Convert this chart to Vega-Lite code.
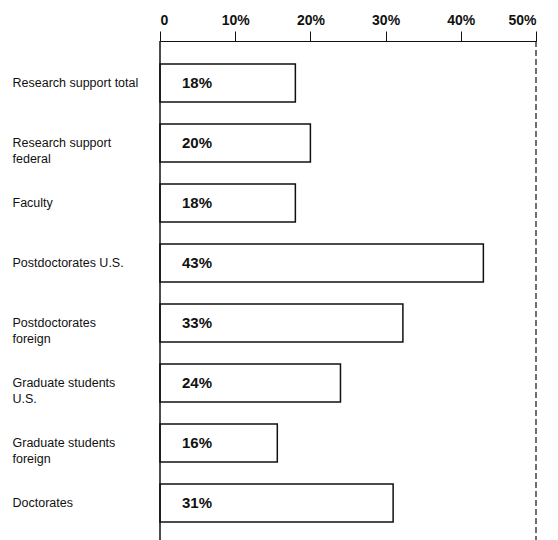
{
  "$schema": "https://vega.github.io/schema/vega-lite/v6.json",
  "width": 376,
  "height": 499,
  "autosize": {"type": "none"},
  "padding": {"left": 160, "top": 41, "right": 22, "bottom": 0},
  "background": "white",
  "config": {"view": {"stroke": null}, "font": "Liberation Sans"},
  "data": {"values": [
    {"category": "Research support total", "value": 18, "label": "18%"},
    {"category": "Research support|federal", "value": 20, "label": "20%"},
    {"category": "Faculty", "value": 18, "label": "18%"},
    {"category": "Postdoctorates U.S.", "value": 43, "label": "43%"},
    {"category": "Postdoctorates|foreign", "value": 32.3, "label": "33%"},
    {"category": "Graduate students|U.S.", "value": 24, "label": "24%"},
    {"category": "Graduate students|foreign", "value": 15.6, "label": "16%"},
    {"category": "Doctorates", "value": 31, "label": "31%"}
  ]},
  "layer": [
    {
      "mark": {"type": "bar", "fill": "white", "stroke": "#111", "strokeWidth": 1.5},
      "encoding": {
        "y": {"field": "category", "type": "nominal", "sort": null,
          "scale": {"range": [12, 492], "paddingInner": 0.367, "paddingOuter": 0.183},
          "axis": {"title": null, "domain": false, "ticks": false, "labelAlign": "left", "labelPadding": 148,
            "labelFontSize": 12.5, "labelColor": "#111", "labelExpr": "split(datum.label, '|')",
            "labelLineHeight": 16, "labelLimit": 0}},
        "x": {"field": "value", "type": "quantitative",
          "scale": {"domain": [0, 50], "nice": false, "zero": true},
          "axis": {"orient": "top", "title": null, "values": [0, 10, 20, 30, 40, 50], "grid": false,
            "labelExpr": "datum.value == 0 ? '0' : datum.value + '%'",
            "labelFontSize": 14, "labelFontWeight": "bold", "labelColor": "#111", "labelPadding": 4,
            "labelDx": 3, "tickSize": 10, "tickColor": "#111", "domainColor": "#111", "domainWidth": 1.2}}
      }
    },
    {
      "mark": {"type": "text", "align": "left", "baseline": "middle", "dx": 22, "fontWeight": "bold", "fontSize": 15, "color": "#111"},
      "encoding": {
        "y": {"field": "category", "type": "nominal", "sort": null},
        "x": {"datum": 0, "type": "quantitative"},
        "text": {"field": "label"}
      }
    },
    {
      "data": {"values": [{"v": 0}]},
      "mark": {"type": "rule", "color": "#111", "strokeWidth": 1.5},
      "encoding": {"x": {"field": "v", "type": "quantitative"}}
    },
    {
      "data": {"values": [{"v": 50}]},
      "mark": {"type": "rule", "color": "#111", "strokeWidth": 1.2, "strokeDash": [6, 3]},
      "encoding": {"x": {"field": "v", "type": "quantitative"}}
    }
  ]
}
